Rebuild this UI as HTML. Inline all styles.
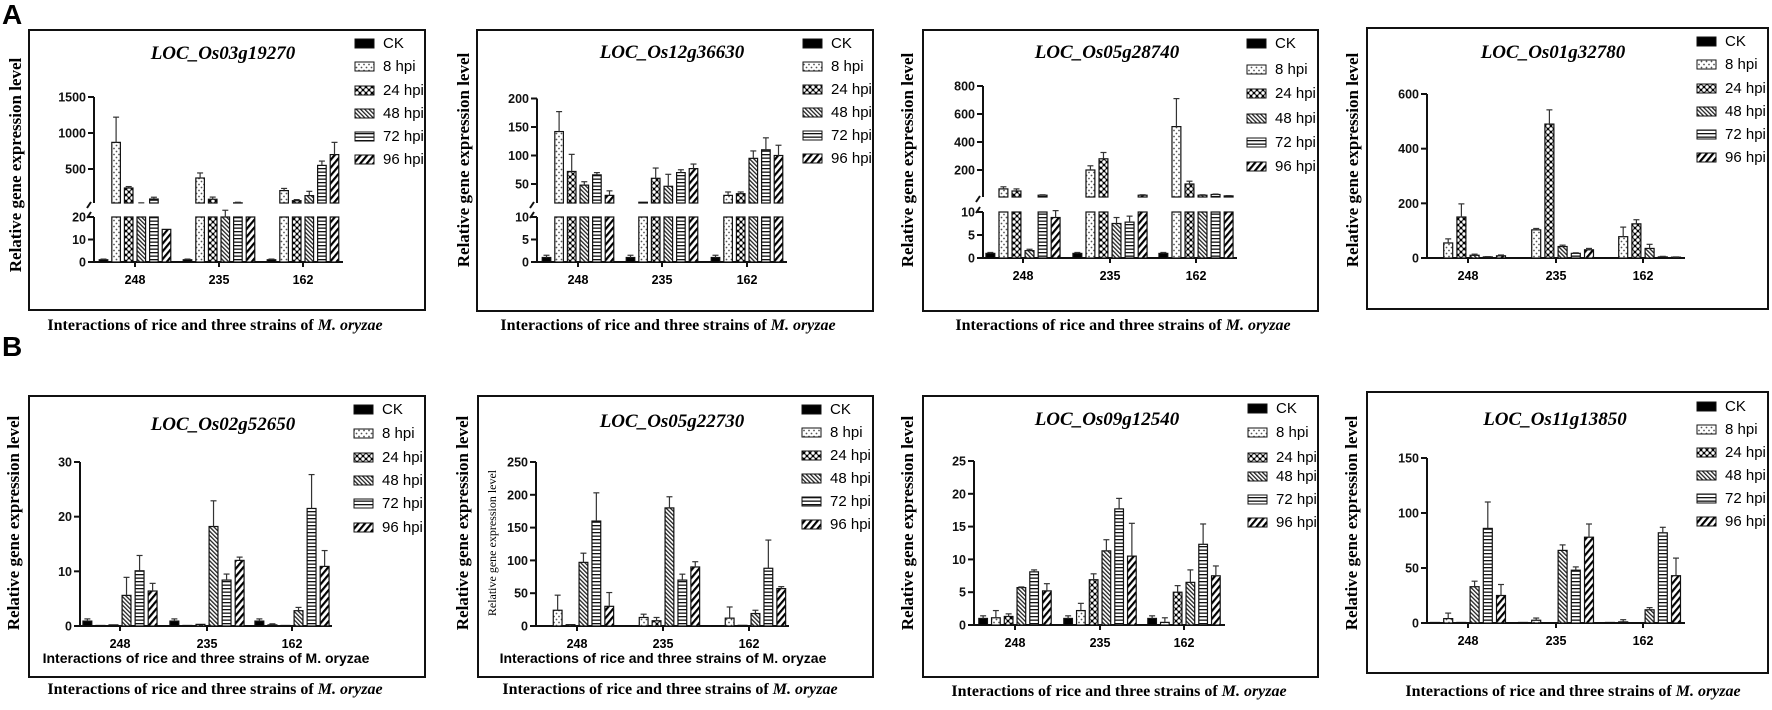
<!DOCTYPE html>
<html><head><meta charset="utf-8"><style>
body{margin:0;background:#fff;}
svg{display:block;}
.ttl{font:italic bold 19px "Liberation Serif",serif;}
.yt{font:bold 17px "Liberation Serif",serif;}
.xt{font:bold 16px "Liberation Serif",serif;}
.tk{font:bold 12.5px "Liberation Sans",sans-serif;}
.lg{font:15px "Liberation Sans",sans-serif;}
.in{font:bold 14px "Liberation Sans",sans-serif;}
</style></head><body>
<svg id="fig" width="1772" height="710" xmlns="http://www.w3.org/2000/svg">
<defs>
<pattern id="pDot" width="5" height="6" patternUnits="userSpaceOnUse"><rect width="5" height="6" fill="#fff"/><circle cx="1.5" cy="1.5" r="0.9" fill="#555"/><circle cx="4" cy="4.5" r="0.9" fill="#555"/></pattern>
<pattern id="pCross" width="6" height="6" patternUnits="userSpaceOnUse"><rect width="6" height="6" fill="#000"/><circle cx="3" cy="3" r="1.7" fill="#fff"/><circle cx="0" cy="0" r="1.7" fill="#fff"/><circle cx="6" cy="0" r="1.7" fill="#fff"/><circle cx="0" cy="6" r="1.7" fill="#fff"/><circle cx="6" cy="6" r="1.7" fill="#fff"/></pattern>
<pattern id="pFine" width="3" height="3" patternUnits="userSpaceOnUse" patternTransform="rotate(-45)"><rect width="3" height="3" fill="#fff"/><rect width="1.3" height="3" fill="#222"/></pattern>
<pattern id="pHor" width="4" height="3.5" patternUnits="userSpaceOnUse"><rect width="4" height="3.5" fill="#fff"/><rect width="4" height="1.3" fill="#111"/></pattern>
<pattern id="pDiag" width="5" height="5" patternUnits="userSpaceOnUse" patternTransform="rotate(40)"><rect width="5" height="5" fill="#fff"/><rect width="2.2" height="5" fill="#000"/></pattern>
</defs>
<text x="2" y="24" style="font:bold 28px 'Liberation Sans',sans-serif">A</text>
<text x="2" y="356" style="font:bold 28px 'Liberation Sans',sans-serif">B</text>
</svg>
<script>
const categories = ["248","235","162"];
const seriesNames = ["CK","8 hpi","24 hpi","48 hpi","72 hpi","96 hpi"];
const titles = ["LOC_Os03g19270","LOC_Os12g36630","LOC_Os05g28740","LOC_Os01g32780","LOC_Os02g52650","LOC_Os05g22730","LOC_Os09g12540","LOC_Os11g13850"];
// values per panel: [group][series]
const p1Values = [[1,870,236,25,83,14.5],[1,375,80,20,30,22],[1,200,60,130,550,700]];
const p1Errors = [[0.3,350,20,5,25,0],[0.3,70,30,3,8,0],[0.3,30,15,60,60,170]];
const p2Values = [[1,142,72,48,66,30],[1,18,60,46,70,77],[1,30,33,95,110,100]];
const p2Errors = [[0.5,35,30,6,4,8],[0.5,0,18,21,5,8],[0.5,6,3,13,21,18]];
const p3Values = [[1,65,50,1.6,20,8.8],[1,200,280,7.5,7.8,20],[1,510,100,20,25,15]];
const p3Errors = [[0.2,15,15,0.3,3,1.5],[0.2,30,45,1.3,1.3,3],[0.2,200,20,3,3,2]];
const p4Values = [[0.5,55,150,10,4,8],[0.5,103,490,42,17,30],[0.5,78,125,35,4,3]];
const p4Errors = [[0,15,48,4,1,3],[0,5,52,5,2,5],[0,35,15,15,2,1]];
const p5Values = [[0.9,0.1,0.2,5.6,10.1,6.4],[0.9,0.1,0.3,18.2,8.4,12],[0.9,0.2,0.1,2.8,21.5,10.9]];
const p5Errors = [[0.4,0,0,3.3,2.8,1.4],[0.4,0,0,4.7,1.1,0.6],[0.4,0.2,0,0.6,6.2,2.9]];
const p6Values = [[0.5,24,2,97,160,30],[0.5,13,8,180,70,90],[0.5,12,1,19,88,57]];
const p6Errors = [[0,23,0,14,43,21],[0,5,5,17,9,8],[0,17,0,5,43,3]];
const p7Values = [[1,1.1,1.3,5.7,8.1,5.2],[1,2.2,6.9,11.3,17.7,10.5],[1,0.4,5,6.5,12.3,7.5]];
const p7Errors = [[0.4,1.1,0.4,0.1,0.3,1.1],[0.4,1.1,0.9,1.7,1.6,5],[0.4,0.7,1,1.9,3.1,1.5]];
const p8Values = [[0.5,4,0.5,33,86,25],[0.5,2.5,0.3,66,48,78],[0.5,1,0.3,12,82,43]];
const p8Errors = [[0,5,0,5,24,10],[0,2,0,5,3,12],[0,2,0,2,5,16]];
const p1LowTicks=[0,10,20], p1HighTicks=[500,1000,1500];
const p2LowTicks=[0,5,10], p2HighTicks=[50,100,150,200];
const p3LowTicks=[0,5,10], p3HighTicks=[200,400,600,800];
const p4Ticks=[0,200,400,600];
const p5Ticks=[0,10,20,30];
const p6Ticks=[0,50,100,150,200,250];
const p7Ticks=[0,5,10,15,20,25];
const p8Ticks=[0,50,100,150];

const fills=["#000","url(#pDot)","url(#pCross)","url(#pFine)","url(#pHor)","url(#pDiag)"];
const svg=document.getElementById('fig');
const NS="http://www.w3.org/2000/svg";
function mk(tag,attrs,parent){const e=document.createElementNS(NS,tag);for(const k in attrs)e.setAttribute(k,attrs[k]);(parent||svg).appendChild(e);return e;}

const panels=[
 {vals:p1Values,errs:p1Errors,box:[29,30,425,310],ax:94,base:262,axEnd:343,g:[135,219,303],
  brk:{lowMax:20,lowTopY:217,upZeroY:205,upPx:36/500,segBot:203,lowTicks:p1LowTicks,highTicks:p1HighTicks},
  lgx:355,lgy:[43,66,90,113,136,159],tx:223,ty:59,ytx:15,yty:165,xl:[215,330]},
 {vals:p2Values,errs:p2Errors,box:[477,30,873,311],ax:537,base:262,axEnd:787,g:[578,662,747],
  brk:{lowMax:10,lowTopY:217,upZeroY:212.5,upPx:28.5/50,segBot:203,lowTicks:p2LowTicks,highTicks:p2HighTicks},
  lgx:803,lgy:[43,66,89,112,135,158],tx:672,ty:58,ytx:463,yty:160,xl:[668,330]},
 {vals:p3Values,errs:p3Errors,box:[923,30,1318,311],ax:983,base:258,axEnd:1237,g:[1023,1110,1196],
  brk:{lowMax:10,lowTopY:212,upZeroY:198,upPx:28/200,segBot:197,lowTicks:p3LowTicks,highTicks:p3HighTicks},
  lgx:1247,lgy:[43,69,93,118,142,166],tx:1107,ty:58,ytx:907,yty:160,xl:[1123,330]},
 {vals:p4Values,errs:p4Errors,box:[1367,28,1768,309],ax:1427,base:258,axEnd:1685,g:[1468,1556,1643],
  max:600,topY:94,ticks:p4Ticks,
  lgx:1697,lgy:[41,64,88,111,134,157],tx:1553,ty:58,ytx:1352,yty:160,xl:null},
 {vals:p5Values,errs:p5Errors,box:[29,396,425,677],ax:80,base:626,axEnd:332,g:[120,207,292],
  max:30,topY:462,ticks:p5Ticks,
  lgx:354,lgy:[409,433,457,480,503,527],tx:223,ty:430,ytx:13,yty:523,xl:[215,694],inner:[206,663]},
 {vals:p6Values,errs:p6Errors,box:[478,396,873,677],ax:536,base:626,axEnd:789,g:[577,663,749],
  max:250,topY:462,ticks:p6Ticks,
  lgx:802,lgy:[409,432,455,478,501,524],tx:672,ty:427,ytx:462,yty:523,xl:[670,694],inner:[663,663],innerY:[492,543]},
 {vals:p7Values,errs:p7Errors,box:[923,396,1318,677],ax:974,base:625,axEnd:1225,g:[1015,1100,1184],
  max:25,topY:461,ticks:p7Ticks,
  lgx:1248,lgy:[408,432,457,476,499,522],tx:1107,ty:425,ytx:907,yty:523,xl:[1119,696]},
 {vals:p8Values,errs:p8Errors,box:[1367,392,1768,673],ax:1427,base:623,axEnd:1685,g:[1468,1556,1643],
  max:150,topY:458,ticks:p8Ticks,
  lgx:1697,lgy:[406,429,452,475,498,521],tx:1555,ty:425,ytx:1351,yty:523,xl:[1573,696]}
];

panels.forEach((P,pi)=>{
  const G=mk('g',{});
  
  
  const b=P.box;
  const box=mk('rect',{x:b[0],y:b[1],width:b[2]-b[0],height:b[3]-b[1],fill:'none',stroke:'#111','stroke-width':2},G);
  
  
  const t=mk('text',{x:P.tx,y:P.ty,'text-anchor':'middle',class:'ttl'},G);t.textContent=titles[pi];
  
  
  const yt=mk('text',{x:0,y:0,'text-anchor':'middle',class:'yt',transform:`translate(${P.ytx+6},${P.yty}) rotate(-90)`},G);
  yt.textContent='Relative gene expression level';
  
  
  if(P.xl){
    const xt=mk('text',{x:P.xl[0],y:P.xl[1],'text-anchor':'middle',class:'xt'},G);
    xt.innerHTML='Interactions of rice and three strains of <tspan font-style="italic">M. oryzae</tspan>';
    
    
  }
  if(P.inner){
    const it=mk('text',{x:P.inner[0],y:P.inner[1],'text-anchor':'middle',class:'in'},G);
    it.textContent='Interactions of rice and three strains of M. oryzae';
    
    
  }
  if(P.innerY){
    const iy=mk('text',{x:0,y:0,'text-anchor':'middle',transform:`translate(${P.innerY[0]+4},${P.innerY[1]}) rotate(-90)`,style:'font:12px "Liberation Serif",serif'},G);
    iy.textContent='Relative gene expression level';
    
    
  }
  let yLow,yHigh,segBot,lowMax;
  if(P.brk){
    const B=P.brk; lowMax=B.lowMax; segBot=B.segBot;
    yLow=v=>P.base-(v/B.lowMax)*(P.base-B.lowTopY);
    yHigh=v=>B.upZeroY-v*B.upPx;
  } else {
    yLow=v=>P.base-(v/P.max)*(P.base-P.topY);
  }
  const A=mk('g',{stroke:'#111','stroke-width':2,fill:'none'},G);
  
  
  function tick(y,label){
    mk('line',{x1:P.ax-6,y1:y,x2:P.ax,y2:y},A);
    const tt=mk('text',{x:P.ax-8,y:y+4.5,'text-anchor':'end',class:'tk',fill:'#111',stroke:'none'},G);
    tt.textContent=label;
    
    
  }
  if(P.brk){
    const B=P.brk;
    mk('line',{x1:P.ax,y1:P.base,x2:P.ax,y2:B.lowTopY},A);
    const topV=B.highTicks[B.highTicks.length-1];
    mk('line',{x1:P.ax,y1:B.segBot,x2:P.ax,y2:yHigh(topV)},A);
    mk('line',{x1:P.ax-7,y1:B.segBot+5,x2:P.ax-3,y2:B.segBot-1},A);
    mk('line',{x1:P.ax-7,y1:B.lowTopY+1,x2:P.ax-3,y2:B.lowTopY-5},A);
    B.lowTicks.forEach(v=>tick(yLow(v),v));
    B.highTicks.forEach(v=>tick(yHigh(v),v));
  } else {
    mk('line',{x1:P.ax,y1:P.base,x2:P.ax,y2:P.topY},A);
    P.ticks.forEach(v=>tick(yLow(v),v));
  }
  const XA=mk('g',{stroke:'#111','stroke-width':2},G);
  
  
  mk('line',{x1:P.ax,y1:P.base,x2:P.axEnd,y2:P.base},XA);
  const gap=(P.g[1]-P.g[0])*0.15, bw=gap*0.68;
  categories.forEach((c,gi)=>{
    const cx=P.g[gi];
    mk('line',{x1:cx,y1:P.base,x2:cx,y2:P.base+5},XA);
    const ct=mk('text',{x:cx,y:P.base+22,'text-anchor':'middle',class:'tk'},G);ct.textContent=c;
    
    
    seriesNames.forEach((s,si)=>{
      const v=P.vals[gi][si], e=P.errs[gi][si];
      const x=cx+(si-2.5)*gap-bw/2;
      const st={fill:fills[si],stroke:'#111','stroke-width':1.2};
      let topY;
      if(P.brk && v>lowMax){
        const yl=yLow(lowMax);
        const r1=mk('rect',Object.assign({x:x,y:yl,width:bw,height:P.base-yl},st),G);
        
        
        const yh=Math.min(segBot,yHigh(v));
        if(yh<segBot){
          const r2=mk('rect',Object.assign({x:x,y:yh,width:bw,height:segBot-yh},st),G);
          
          
        }
        topY=yh;
        if(e>0){const ye=yHigh(v+e);
          mk('line',{x1:x+bw/2,y1:topY,x2:x+bw/2,y2:ye,stroke:'#333','stroke-width':1.2},G);
          mk('line',{x1:x+bw/2-3,y1:ye,x2:x+bw/2+3,y2:ye,stroke:'#333','stroke-width':1.2},G);}
      } else {
        const y=yLow(v);
        const r=mk('rect',Object.assign({x:x,y:y,width:bw,height:Math.max(0.5,P.base-y)},st),G);
        
        
        if(e>0){const ye=yLow(v+e);
          mk('line',{x1:x+bw/2,y1:y,x2:x+bw/2,y2:ye,stroke:'#333','stroke-width':1.2},G);
          mk('line',{x1:x+bw/2-3,y1:ye,x2:x+bw/2+3,y2:ye,stroke:'#333','stroke-width':1.2},G);}
      }
    });
  });
  seriesNames.forEach((s,si)=>{
    const L=mk('g',{},G);
    
    
    mk('rect',{x:P.lgx,y:P.lgy[si]-4,width:19,height:9,fill:fills[si],stroke:'#111','stroke-width':1},L);
    const lt=mk('text',{x:P.lgx+28,y:P.lgy[si]+5,class:'lg'},L);lt.textContent=s;
  });
});
</script>
</body></html>
